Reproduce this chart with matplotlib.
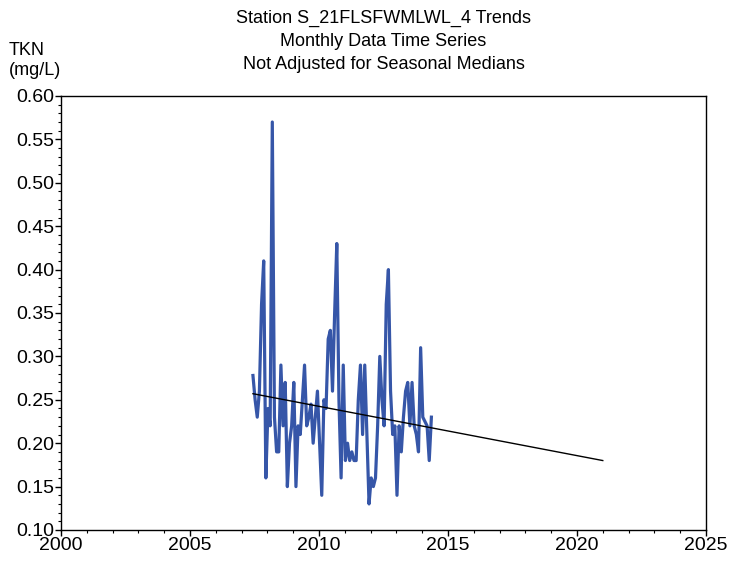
import matplotlib
matplotlib.use('Agg')
import matplotlib.pyplot as plt
from matplotlib.ticker import MultipleLocator
import numpy as np

# Données mensuelles TKN (mg/L), début juin 2007
start_year = 2007.44
tkn = [0.278, 0.25, 0.23, 0.26, 0.36, 0.41, 0.16, 0.24, 0.22, 0.57,
       0.23, 0.19, 0.19, 0.29, 0.22, 0.27, 0.15, 0.20, 0.22, 0.27,
       0.15, 0.22, 0.21, 0.25, 0.29, 0.22, 0.23, 0.245, 0.20, 0.23,
       0.26, 0.20, 0.14, 0.25, 0.24, 0.32, 0.33, 0.26, 0.35, 0.43,
       0.25, 0.16, 0.29, 0.18, 0.20, 0.18, 0.19, 0.18, 0.18, 0.25,
       0.29, 0.21, 0.29, 0.21, 0.13, 0.16, 0.15, 0.16, 0.22, 0.30,
       0.25, 0.22, 0.36, 0.40, 0.26, 0.21, 0.22, 0.14, 0.22, 0.19,
       0.23, 0.26, 0.27, 0.22, 0.27, 0.22, 0.21, 0.19, 0.31, 0.23,
       0.225, 0.22, 0.18, 0.23]
years = start_year + np.arange(len(tkn)) / 12.0

# Droite de tendance
trend_x = [2007.44, 2021.0]
trend_y = [0.257, 0.180]

title_lines = ['Station S_21FLSFWMLWL_4 Trends',
               'Monthly Data Time Series',
               'Not Adjusted for Seasonal Medians']

plt.rcParams['font.family'] = ['Liberation Sans', 'DejaVu Sans']

fig = plt.figure(figsize=(7.29, 5.64), dpi=100)
ax = fig.add_axes([0.0837, 0.0603, 0.8847, 0.7695])

ax.plot(years, tkn, color='#3656a8', linewidth=2.3, solid_joinstyle='round')
ax.plot(trend_x, trend_y, color='black', linewidth=1.0)

ax.set_xlim(2000, 2025)
ax.set_ylim(0.10, 0.60)
ax.xaxis.set_major_locator(MultipleLocator(5))
ax.xaxis.set_minor_locator(MultipleLocator(1))
ax.yaxis.set_major_locator(MultipleLocator(0.05))
ax.yaxis.set_minor_locator(MultipleLocator(0.01))
ax.yaxis.set_major_formatter(plt.FormatStrFormatter('%.2f'))
ax.tick_params(axis='both', which='major', labelsize=14, length=4, width=1, pad=1)
ax.tick_params(axis='both', which='minor', length=2, width=0.8)
for s in ax.spines.values():
    s.set_linewidth(1.0)

# Titre sur trois lignes
fig.text(0.526, 0.982, '\n'.join(title_lines), ha='center', va='top',
         fontsize=13, linespacing=1.45)
fig.text(0.012, 0.893, 'TKN\n(mg/L)', ha='left', va='center', fontsize=13,
         linespacing=1.2)

plt.savefig('out.png', dpi=100)
plt.close()
